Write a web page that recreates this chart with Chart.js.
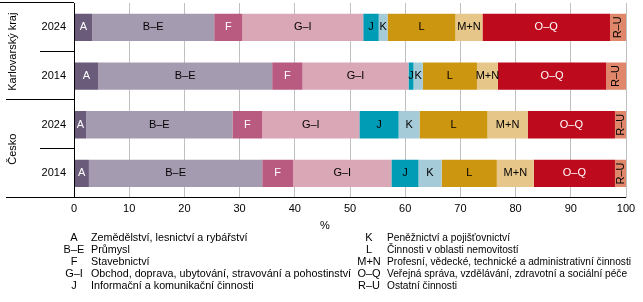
<!DOCTYPE html>
<html>
<head>
<meta charset="utf-8">
<script src="https://cdn.jsdelivr.net/npm/chart.js@4/dist/chart.umd.min.js"></script>
<style>
  body { margin: 0; background: #fff; }
  #wrap { width: 643px; height: 302px; position: relative; }
</style>
</head>
<body>
<div id="wrap"><canvas id="myChart"></canvas></div>
<script>
// rows (top to bottom)
var regions = ["Karlovarský kraj", "Česko"];
var years = ["2024", "2014", "2024", "2014"];
var rowRegion = [0, 0, 1, 1];

// sector codes and names
var codes = ["A", "B–E", "F", "G–I", "J", "K", "L", "M+N", "O–Q", "R–U"];
var names = [
  "Zemědělství, lesnictví a rybářství",
  "Průmysl",
  "Stavebnictví",
  "Obchod, doprava, ubytování, stravování a pohostinství",
  "Informační a komunikační činnosti",
  "Peněžnictví a pojišťovnictví",
  "Činnosti v oblasti nemovitostí",
  "Profesní, vědecké, technické a administrativní činnosti",
  "Veřejná správa, vzdělávání, zdravotní a sociální péče",
  "Ostatní činnosti"
];

// shares in % (Karlovarský 2024, Karlovarský 2014, Česko 2024, Česko 2014)
var valA  = [3.3, 4.4, 2.2, 2.7];
var valBE = [22.1, 31.5, 26.5, 31.4];
var valF  = [5.1, 5.5, 5.4, 5.6];
var valGI = [21.9, 19.2, 17.6, 17.8];
var valJ  = [2.8, 0.9, 7.1, 4.9];
var valK  = [1.6, 1.7, 3.8, 4.2];
var valL  = [12.3, 9.8, 12.3, 10.0];
var valMN = [4.9, 3.8, 7.3, 6.7];
var valOQ = [23.1, 19.6, 15.8, 14.7];
var valRU = [2.9, 3.6, 2.0, 2.0];

var xTicks = [0, 10, 20, 30, 40, 50, 60, 70, 80, 90, 100];

var allValues = [valA, valBE, valF, valGI, valJ, valK, valL, valMN, valOQ, valRU];
var colors = ["#6b5b7b", "#a59bb0", "#b95b80", "#d9a7b5", "#009bb5",
              "#a5cbd9", "#cc9611", "#e6c789", "#bd0a1d", "#e0876b"];
var labelColors = ["#fff", "#000", "#fff", "#000", "#000",
                   "#000", "#000", "#000", "#fff", "#000"];

var FONT = "11px 'Liberation Sans', Arial, sans-serif";

var datasets = codes.map(function (c, i) {
  return {
    label: c,
    data: allValues[i],
    backgroundColor: colors[i],
    borderWidth: 0,
    barPercentage: 0.56,
    categoryPercentage: 1
  };
});

var extras = {
  id: "extras",
  afterDatasetsDraw: function (chart) {
    var ctx = chart.ctx;
    var area = chart.chartArea;
    var ys = chart.scales.y;
    ctx.save();
    ctx.font = FONT;

    // labels in segments
    chart.data.datasets.forEach(function (ds, di) {
      var meta = chart.getDatasetMeta(di);
      meta.data.forEach(function (bar) {
        var cx = (bar.x + bar.base) / 2;
        ctx.fillStyle = labelColors[di];
        ctx.textAlign = "center";
        ctx.textBaseline = "middle";
        if (codes[di] === "R–U") {
          ctx.save();
          ctx.translate(cx, bar.y);
          ctx.rotate(-Math.PI / 2);
          ctx.fillText(codes[di], 0, 0);
          ctx.restore();
        } else {
          ctx.fillText(codes[di], cx, bar.y);
        }
      });
    });

    // axis frame on the left
    ctx.strokeStyle = "#000";
    ctx.lineWidth = 1;
    var step = (area.bottom - area.top) / years.length;
    ctx.beginPath();
    ctx.moveTo(area.left + 0.5, area.top);
    ctx.lineTo(area.left + 0.5, area.bottom);
    for (var k = 0; k <= years.length; k++) {
      var yy = Math.round(area.top + k * step) - 0.5;
      var x0 = (k % 2 === 0) ? 6 : 40;
      if (k === 0) x0 = 0;
      ctx.moveTo(x0, yy);
      ctx.lineTo(area.left, yy);
    }
    ctx.stroke();

    // year labels
    ctx.fillStyle = "#000";
    ctx.textAlign = "right";
    ctx.textBaseline = "middle";
    years.forEach(function (y, i) {
      ctx.fillText(y, 66, ys.getPixelForValue(i));
    });

    // region labels (rotated)
    ctx.textAlign = "center";
    regions.forEach(function (r, ri) {
      var idx = [];
      rowRegion.forEach(function (g, i) { if (g === ri) idx.push(i); });
      var cy = (ys.getPixelForValue(idx[0]) + ys.getPixelForValue(idx[idx.length - 1])) / 2;
      ctx.save();
      ctx.translate(13, cy);
      ctx.rotate(-Math.PI / 2);
      ctx.fillText(r, 0, 0);
      ctx.restore();
    });

    // "%" axis title
    ctx.fillText("%", 325, 226);

    // legend (text squeezed a bit to match the narrow original font)
    var sxL = Math.min(1, 260 / ctx.measureText(names[3]).width);
    var sxR = Math.min(1, 244 / ctx.measureText(names[7]).width);
    ctx.textBaseline = "middle";
    for (var i = 0; i < codes.length; i++) {
      var col = i < 5 ? 0 : 1;
      var row = i % 5;
      var ly = 237.5 + row * 12.2;
      var cx = col === 0 ? 74 : 369;
      var tx = col === 0 ? 91 : 387;
      ctx.textAlign = "center";
      ctx.fillText(codes[i], cx, ly);
      ctx.save();
      ctx.translate(tx, ly);
      ctx.scale(col === 0 ? sxL : sxR, 1);
      ctx.textAlign = "left";
      ctx.fillText(names[i], 0, 0);
      ctx.restore();
    }
    ctx.restore();
  },
  afterDraw: function (chart) {
    // extend bottom axis line to the left
    var ctx = chart.ctx;
    var area = chart.chartArea;
    ctx.save();
    ctx.strokeStyle = "#000";
    ctx.lineWidth = 1;
    ctx.beginPath();
    ctx.moveTo(6, Math.round(area.bottom) - 0.5);
    ctx.lineTo(area.right, Math.round(area.bottom) - 0.5);
    ctx.stroke();
    ctx.restore();
  }
};

var ctx = document.getElementById("myChart");
var myChart = new Chart(ctx, {
  type: "bar",
  data: {
    labels: years,
    datasets: datasets
  },
  plugins: [extras],
  options: {
    indexAxis: "y",
    responsive: true,
    maintainAspectRatio: false,
    animation: false,
    layout: { padding: { left: 74, top: 3, right: 17, bottom: 81 } },
    plugins: {
      legend: { display: false },
      tooltip: { enabled: false }
    },
    scales: {
      x: {
        stacked: true,
        min: 0,
        max: 100,
        afterBuildTicks: function (scale) {
          scale.ticks = xTicks.map(function (v) { return { value: v }; });
        },
        grid: { color: "#c0c0c0", lineWidth: 1, drawTicks: false },
        border: { display: false },
        ticks: {
          padding: 5,
          color: "#000",
          font: { family: "'Liberation Sans', Arial, sans-serif", size: 11 }
        }
      },
      y: {
        stacked: true,
        display: false,
        offset: true
      }
    }
  }
});
</script>
</body>
</html>
